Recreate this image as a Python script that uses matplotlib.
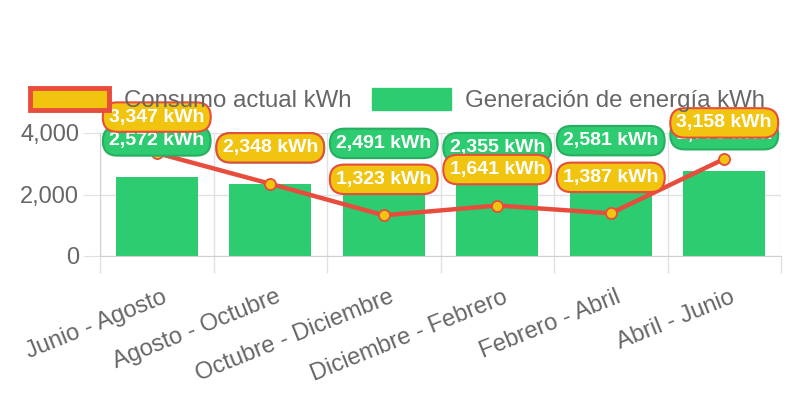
import matplotlib
matplotlib.use("Agg")
import matplotlib.pyplot as plt
from matplotlib.patches import Patch
from matplotlib.transforms import ScaledTranslation
import numpy as np

categories = ["Junio - Agosto", "Agosto - Octubre", "Octubre - Diciembre",
              "Diciembre - Febrero", "Febrero - Abril", "Abril - Junio"]
consumo = [3347, 2348, 1323, 1641, 1387, 3158]
generacion = [2572, 2348, 2491, 2355, 2581, 2773]
yticks = [0, 2000, 4000]

RED = "#e74c3c"
YEL = "#f1c40f"
GRN = "#2ecc71"
DGRN = "#27ae60"
GREY = "#666666"
GRID = "#e1e1e1"

plt.rcParams['font.family'] = ['Liberation Sans', 'DejaVu Sans']

fig = plt.figure(figsize=(7.92, 3.96), dpi=100)
ax = fig.add_axes([100/792, 1-256/396, 681/792, 123/396])

x = np.arange(len(categories))
ax.bar(x, generacion, width=0.72, color=GRN, zorder=2)
ax.plot(x, consumo, color=RED, lw=3.2, marker='o', markersize=8,
        markerfacecolor=YEL, markeredgecolor=RED, markeredgewidth=1.3, zorder=3)

ax.set_xlim(-0.5, len(categories)-0.5)
ax.set_ylim(0, 4000)
ax.set_yticks(yticks)
ax.set_yticklabels([f"{v:,}" for v in yticks])
ax.set_xticks(np.arange(len(categories)+1)-0.5, minor=True)
ax.set_xticks(x)
ax.set_xticklabels(categories, rotation=22, ha='right', va='center', rotation_mode='anchor')
ax.tick_params(axis='x', which='major', length=0, pad=29, labelsize=17, labelcolor=GREY)
ax.tick_params(axis='x', which='minor', length=12, color=GRID, width=1)
ax.tick_params(axis='y', length=12, color=GRID, pad=3, labelsize=17, labelcolor=GREY)
ax.grid(axis='y', color=GRID, lw=1, zorder=0)
ax.grid(axis='x', which='minor', color=GRID, lw=1, zorder=0)
for s in ['top', 'right']:
    ax.spines[s].set_visible(False)
for s in ['left', 'bottom']:
    ax.spines[s].set_color("#d0d0d0")

shift = ScaledTranslation(9/100, 0, fig.dpi_scale_trans)
for lab in ax.get_xticklabels():
    lab.set_transform(lab.get_transform() + shift)

for i, v in enumerate(generacion):
    ax.annotate(f"{v:,} kWh", (x[i], v), xytext=(0, 36), textcoords='offset pixels',
                ha='center', va='center', color='white', fontweight='bold', fontsize=14,
                bbox=dict(boxstyle="round,pad=0.32,rounding_size=0.75", fc=GRN, ec=DGRN, lw=1.5),
                zorder=5, annotation_clip=False)
for i, v in enumerate(consumo):
    ax.annotate(f"{v:,} kWh", (x[i], v), xytext=(0, 36), textcoords='offset pixels',
                ha='center', va='center', color='white', fontweight='bold', fontsize=14,
                bbox=dict(boxstyle="round,pad=0.32,rounding_size=0.75", fc=YEL, ec=RED, lw=1.5),
                zorder=6, annotation_clip=False)

handles = [Patch(facecolor=YEL, edgecolor=RED, linewidth=3.5, label="Consumo actual kWh"),
           Patch(facecolor=GRN, edgecolor=GRN, label="Generación de energía kWh")]
leg = fig.legend(handles=handles, loc='center', bbox_to_anchor=(0.502, 1-100/396), ncol=2,
                 frameon=False, fontsize=17.3, handlelength=3.3, handleheight=1.0,
                 handletextpad=0.6, columnspacing=0.85, labelcolor=GREY)
leg.set_zorder(1)

fig.savefig("out.png", dpi=100)
